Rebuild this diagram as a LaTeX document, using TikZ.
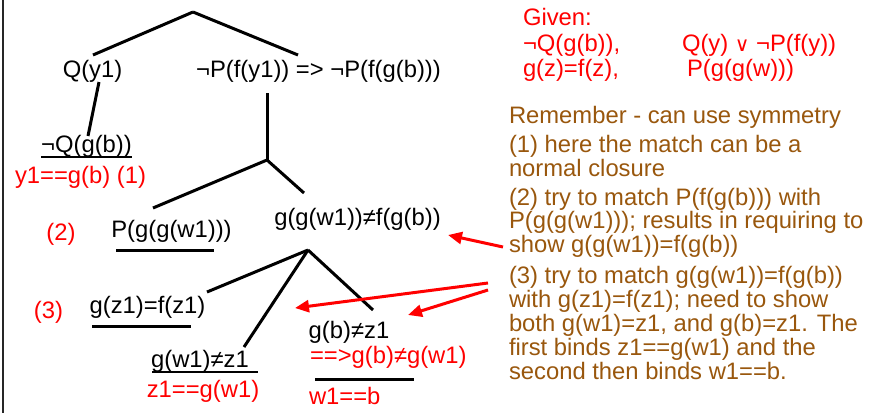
\documentclass[tikz,border=0pt]{standalone}
\usepackage{fontspec}
\setmainfont{Liberation Sans}
\newfontfamily\djv{DejaVu Sans}
\usetikzlibrary{arrows.meta,calc}
\definecolor{brn}{RGB}{153,87,13}
\begin{document}
\begin{tikzpicture}[x=1pt,y=-1pt,
  every node/.style={inner sep=0pt,outer sep=0pt,font=\fontsize{23.8}{24}\selectfont},
  tx/.style={anchor=base},
  rtx/.style={anchor=base,text=red},
  lrtx/.style={anchor=base west,text=red},
  btx/.style={anchor=base west,text=brn},
  branch/.style={line width=3pt},
  thinul/.style={line width=1.3pt},
  thickul/.style={line width=3pt},
  arr/.style={draw=red,line width=3pt,-{Triangle[length=14pt,width=12pt]}}]
\path[use as bounding box] (0,0) rectangle (870,413);
\draw[line width=2.5pt,black!85] (3,0) -- (3,413);

% tree nodes
\node[tx] (q)  at (92.5,77) {Q(y1)};
\node[tx] (np) at (318.5,77) {¬P(f(y1)) => ¬P(f(g(b)))};
\node[tx] (nq) at (86.5,152) {¬Q(g(b))};
\node[rtx] (c1) at (80.5,183) {y1==g(b) (1)};
\node[rtx] (l2) at (61,240) {(2)};
\node[tx] (pg) at (171.5,237) {P(g(g(w1)))};
\node[tx] (gg) at (357.5,225) {g(g(w1))≠f(g(b))};
\node[rtx] (l3) at (48.5,318) {(3)};
\node[tx] (gz) at (147.5,313) {g(z1)=f(z1)};
\node[tx] (gw) at (200,367) {g(w1)≠z1};
\node[rtx] (zb) at (203,397) {z1==g(w1)};
\node[tx] (gb) at (349,338) {g(b)≠z1};
\node[lrtx] (gbw) at (310,363) {==>g(b)≠g(w1)};
\node[lrtx] (wb) at (309,404) {w1==b};

% branch points
\coordinate (top) at (193,12);
\coordinate (j1) at (267,160);
\coordinate (j2) at (308,250);
\coordinate (qt) at (93,55);
\coordinate (npt) at (298,55);
\coordinate (npb) at (267,93);
\coordinate (qb) at (99,82);
\coordinate (nqt) at (88,136);
\coordinate (pgt) at (153,208);
\coordinate (ggt) at (304,193);
\coordinate (gzt) at (207,292);
\coordinate (gwt) at (244,347);
\coordinate (gbt) at (373,310);

\draw[branch] (top) -- (qt);
\draw[branch] (top) -- (npt);
\draw[branch] (qb) -- (nqt);
\draw[branch] (npb) -- (j1);
\draw[branch] (j1) -- (pgt);
\draw[branch] (j1) -- (ggt);
\draw[branch] (j2) -- (gzt);
\draw[branch] (j2) -- (gwt);
\draw[branch] (j2) -- (gbt);

% underlines
\draw[thinul] (41,157) -- (132,157);
\draw[thickul] (116,250) -- (214,250);
\draw[thickul] (92,326) -- (191,326);
\draw[thinul] (152,372) -- (258,372);
\draw[thickul] (315,379) -- (414,379);

% given
\node[lrtx] (g0) at (523,25) {Given:};
\node[lrtx] (g1) at (523,51) {¬Q(g(b)),};
\node[lrtx] (g2) at (523,76) {g(z)=f(z),};
\node[lrtx] (g3) at (682,51) {Q(y) {\djv\fontsize{20}{20}\selectfont ∨} ¬P(f(y))};
\node[lrtx] (g4) at (687,76) {P(g(g(w)))};

% brown notes
\node[btx] (b1) at (509,123) {Remember - can use symmetry};
\node[btx] (b2) at (509,152) {(1) here the match can be a};
\node[btx] (b3) at (509,176) {normal closure};
\node[btx] (b4) at (509,205) {(2) try to match P(f(g(b))) with};
\node[btx] (b5) at (509,228) {P(g(g(w1))); results in requiring to};
\node[btx] (b6) at (509,252) {show g(g(w1))=f(g(b))};
\node[btx] (b7) at (509,283) {(3) try to match g(g(w1))=f(g(b))};
\node[btx] (b8) at (509,307) {with g(z1)=f(z1); need to show};
\node[btx] (b9) at (509,331) {both g(w1)=z1, and g(b)=z1. The};
\node[btx] (b10) at (509,355) {first binds z1==g(w1) and the};
\node[btx] (b11) at (509,379) {second then binds w1==b.};

% arrows
\coordinate (a1s) at (503,247);
\coordinate (a1e) at (448,235);
\coordinate (a2s) at (488,283);
\coordinate (a2e) at (295,308);
\coordinate (a3s) at (488,290);
\coordinate (a3e) at (408,315);
\draw[arr] (a1s) -- (a1e);
\draw[arr] (a2s) -- (a2e);
\draw[arr] (a3s) -- (a3e);
\end{tikzpicture}
\end{document}
